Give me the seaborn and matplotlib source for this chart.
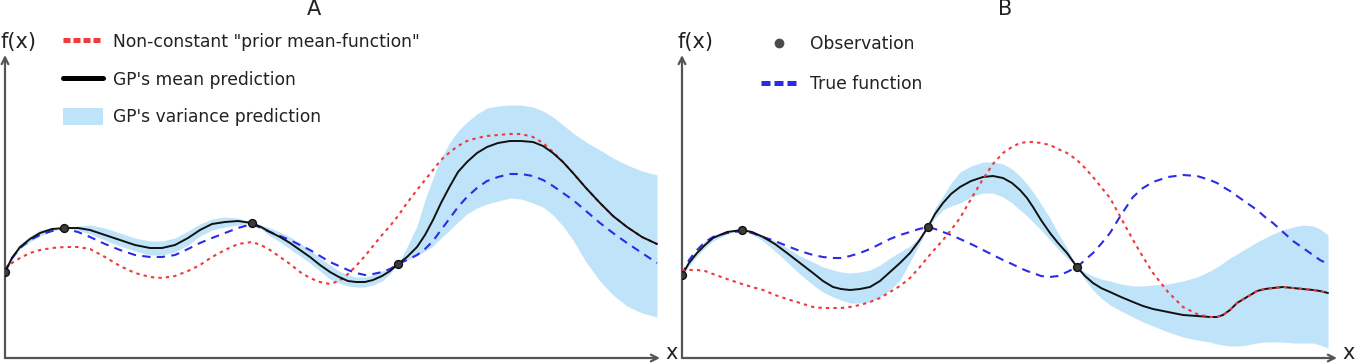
import matplotlib
matplotlib.use("Agg")
import matplotlib.pyplot as plt
import seaborn as sns
from matplotlib.lines import Line2D
from matplotlib.patches import Patch

sns.set_theme(style="white")
plt.rcParams["font.family"] = ["DejaVu Sans"]

# ---------------- Panel A (arbitrary units) ----------------
a_x = [0, 7, 15, 25, 35, 47, 60, 73, 85, 100, 115, 130, 145, 157, 170, 183, 195, 207, 220, 233,
       247, 256, 265, 275, 285, 295, 305, 315, 325, 334, 343, 351, 360, 368, 377, 385, 393, 402,
       412, 420, 428, 436, 445, 453, 462, 472, 482, 493, 505, 516, 528, 538, 548, 558, 568, 581,
       595, 608, 622, 637, 652]
a_mean = [86, 100, 111, 119, 125, 129, 130, 130, 128, 123, 118, 113, 110, 110, 113, 120, 128, 134,
          136, 137, 135, 131, 126, 121, 115, 108, 101, 93, 86, 81, 77, 76, 76, 78, 82, 87, 94, 101,
          111, 123, 138, 155, 172, 186, 196, 205, 211, 215, 217, 217, 216, 212, 205, 196, 185, 170,
          155, 142, 131, 121, 114]
a_true = [86, 100, 110, 118, 123, 127, 129, 126, 121, 114, 108, 103, 101, 101, 103, 109, 115, 120,
          125, 130, 134, 130, 126, 122, 118, 113, 108, 102, 96, 92, 88, 85, 83, 84, 86, 89, 94, 98,
          103, 109, 117, 128, 140, 151, 161, 170, 177, 181, 184, 184, 182, 178, 172, 165, 158, 147,
          135, 125, 115, 105, 95]
a_prior = [90, 95, 100, 105, 108, 110, 111, 111, 109, 101, 92, 85, 81, 80, 82, 87, 93, 101, 108,
           114, 116, 113, 108, 101, 94, 86, 80, 76, 74, 77, 84, 92, 102, 112, 123, 132, 142, 155,
           168, 178, 188, 198, 206, 212, 217, 220, 222, 223, 224, 224, 221, 215, 206, 196, 185, 170,
           155, 142, 131, 121, 114]
a_upper = [86, 102, 113, 122, 128, 130, 130, 132, 133, 130, 125, 120, 117, 117, 120, 127, 134, 139,
           141, 140, 135, 133, 130, 126, 121, 115, 108, 100, 93, 87, 83, 81, 81, 83, 87, 90, 94, 111,
           132, 158, 180, 200, 216, 227, 236, 244, 250, 252, 253, 253, 251, 247, 241, 233, 225, 216,
           208, 200, 193, 187, 183]
a_lower = [86, 98, 109, 116, 122, 127, 130, 128, 124, 118, 112, 107, 103, 103, 106, 113, 122, 128,
           131, 133, 135, 129, 122, 116, 109, 102, 95, 87, 79, 75, 72, 71, 71, 73, 77, 84, 94, 98,
           102, 107, 112, 120, 128, 136, 144, 150, 154, 157, 160, 159, 155, 151, 143, 132, 118, 96,
           77, 63, 52, 45, 41]
a_obs_x = [0, 59, 247, 393]
a_obs_y = [86, 130, 135, 94]

# ---------------- Panel B ----------------
b_x = [0, 7, 15, 23, 31, 45, 60, 70, 81, 93, 105, 118, 131, 141, 151, 159, 168, 178, 188, 198,
       208, 218, 228, 237, 246, 253, 261, 269, 278, 289, 301, 311, 321, 330, 338, 345, 351, 359,
       368, 376, 385, 395, 403, 411, 419, 428, 439, 451, 461, 471, 486, 501, 515, 528, 535, 541,
       548, 555, 565, 575, 583, 591, 601, 611, 621, 631, 638, 646]
b_mean = [83, 95, 105, 113, 120, 126, 128, 126, 121, 114, 105, 95, 85, 77, 71, 69, 68, 69, 71, 77,
          86, 95, 105, 117, 131, 144, 155, 164, 171, 177, 181, 182, 180, 175, 168, 160, 151, 138,
          125, 115, 105, 91, 82, 75, 70, 66, 61, 56, 52, 49, 46, 43, 42, 41, 41, 43, 48, 55, 61, 67,
          69, 70, 71, 70, 69, 68, 67, 65]
b_true = [83, 98, 108, 116, 121, 125, 127, 125, 121, 117, 112, 107, 103, 101, 100, 100, 102, 105,
          109, 114, 119, 123, 126, 129, 131, 129, 126, 123, 119, 114, 108, 103, 98, 94, 90, 87, 85,
          82, 81, 82, 86, 91, 98, 105, 114, 125, 143, 161, 170, 176, 181, 183, 182, 178, 175, 171,
          167, 162, 155, 148, 141, 135, 126, 117, 110, 103, 98, 94]
b_prior = [87, 88, 88, 87, 84, 79, 74, 71, 68, 63, 59, 55, 51, 50, 50, 50, 51, 53, 56, 60, 66, 72,
           80, 90, 101, 109, 118, 128, 140, 159, 179, 194, 205, 211, 215, 216, 216, 215, 213, 209,
           205, 198, 190, 181, 171, 160, 140, 118, 101, 85, 66, 51, 44, 41, 41, 43, 48, 55, 61, 67,
           69, 70, 71, 70, 69, 68, 67, 65]
b_upper = [85, 98, 108, 117, 123, 127, 128, 127, 123, 117, 110, 102, 96, 91, 88, 86, 85, 86, 88,
           93, 100, 106, 112, 120, 131, 150, 162, 175, 186, 192, 196, 196, 194, 189, 182, 174, 166,
           154, 140, 125, 110, 91, 86, 82, 79, 77, 74, 72, 72, 73, 74, 77, 81, 87, 91, 95, 100, 104,
           110, 116, 120, 124, 128, 131, 133, 132, 129, 123]
b_lower = [81, 92, 102, 110, 117, 124, 128, 124, 117, 107, 96, 84, 73, 66, 61, 58, 55, 55, 56, 61,
           68, 78, 96, 113, 131, 140, 148, 152, 155, 161, 165, 165, 161, 155, 148, 142, 136, 128,
           118, 109, 100, 91, 78, 68, 60, 53, 47, 41, 36, 32, 26, 21, 18, 16, 14, 13, 12, 12, 13, 15,
           16, 16, 16, 15, 15, 15, 13, 10]
b_obs_x = [0, 60, 246, 395]
b_obs_y = [83, 128, 131, 91]

for arr in (a_mean, a_true, a_prior, a_upper, a_lower):
    assert len(arr) == len(a_x), len(arr)
for arr in (b_mean, b_true, b_prior, b_upper, b_lower):
    assert len(arr) == len(b_x), len(arr)

titles = ["A", "B"]
legend_a = ['Non-constant "prior mean-function"', "GP's mean prediction", "GP's variance prediction"]
legend_b = ["Observation", "True function"]

BAND = "#bfe3f8"
RED = "#ef3b3b"
BLUE = "#2b2be8"
AXC = "#555555"

W, H = 1356, 363
fig = plt.figure(figsize=(W / 100, H / 100), dpi=100)


def make_axes(left_px):
    ax = fig.add_axes([left_px / W, 1 - 358 / H, 655 / W, 303 / H])
    ax.set_xlim(0, 655)
    ax.set_ylim(0, 303)
    for s in ax.spines.values():
        s.set_visible(False)
    ax.set_xticks([])
    ax.set_yticks([])
    ax.patch.set_alpha(0)
    ax.annotate("", xy=(1, 0), xytext=(0, 0), xycoords="axes fraction",
                arrowprops=dict(arrowstyle="->", color=AXC, lw=1.6, shrinkA=0, shrinkB=0))
    ax.annotate("", xy=(0, 1), xytext=(0, 0), xycoords="axes fraction",
                arrowprops=dict(arrowstyle="->", color=AXC, lw=1.6, shrinkA=0, shrinkB=0))
    return ax


def draw(ax, x, mean, true, prior, up, lo, ox, oy, prior_top):
    ax.fill_between(x, lo, up, color=BAND, lw=0, zorder=1)
    sns.lineplot(x=x, y=true, ax=ax, color=BLUE, lw=1.5, linestyle=(0, (4, 3)),
                 errorbar=None, sort=False, zorder=3)
    sns.lineplot(x=x, y=mean, ax=ax, color="#111111", lw=1.4, solid_joinstyle="round",
                 errorbar=None, sort=False, zorder=4)
    sns.lineplot(x=x, y=prior, ax=ax, color=RED, lw=1.5, linestyle=(0, (1.6, 2)),
                 errorbar=None, sort=False, zorder=5 if prior_top else 2)
    sns.scatterplot(x=ox, y=oy, ax=ax, color="#3c3c3c", edgecolor="#111111",
                    s=32, linewidth=1, zorder=6)
    ax.set_xlim(0, 655)
    ax.set_ylim(0, 303)
    ax.set_xlabel("")
    ax.set_ylabel("")


axA = make_axes(5)
axB = make_axes(682)
draw(axA, a_x, a_mean, a_true, a_prior, a_upper, a_lower, a_obs_x, a_obs_y, False)
draw(axB, b_x, b_mean, b_true, b_prior, b_upper, b_lower, b_obs_x, b_obs_y, True)

for ax in (axA, axB):
    ax.text(-0.007, 1.043, "f(x)", transform=ax.transAxes, ha="left", va="center",
            fontsize=15, color="#222222")
    ax.text(1.018, 0.017, "x", transform=ax.transAxes, ha="center", va="center",
            fontsize=15, color="#222222")

fig.text(314 / W, 1 - 15 / H, titles[0], ha="center", va="baseline", fontsize=15, color="#222222")
fig.text(1005 / W, 1 - 15 / H, titles[1], ha="center", va="baseline", fontsize=15, color="#222222")

FS = 12.3
ha_handles = [Line2D([], [], color=RED, lw=3.6, linestyle=(0, (1.4, 0.6))),
              Line2D([], [], color="black", lw=3.6),
              Patch(facecolor=BAND, edgecolor="none")]
legA = axA.legend(ha_handles, legend_a, loc="upper left", bbox_to_anchor=(63 / W, 1 - 33 / H),
                  bbox_transform=fig.transFigure, frameon=False, fontsize=FS,
                  handlelength=2.35, handleheight=1.17, handletextpad=0.6,
                  labelspacing=1.12, borderpad=0, borderaxespad=0)
for t in legA.get_texts():
    t.set_color("#222222")

hb_handles = [Line2D([], [], marker="o", ls="", color="#4a4a4a", markersize=6),
              Line2D([], [], color=BLUE, lw=3.6, linestyle=(0, (1.8, 0.8)))]
legB = axB.legend(hb_handles, legend_b, loc="upper left", bbox_to_anchor=(761 / W, 1 - 35 / H),
                  bbox_transform=fig.transFigure, frameon=False, fontsize=FS,
                  handlelength=2.15, handletextpad=0.7, labelspacing=1.3,
                  borderpad=0, borderaxespad=0)
for t in legB.get_texts():
    t.set_color("#222222")

fig.savefig("out.png", dpi=100)
